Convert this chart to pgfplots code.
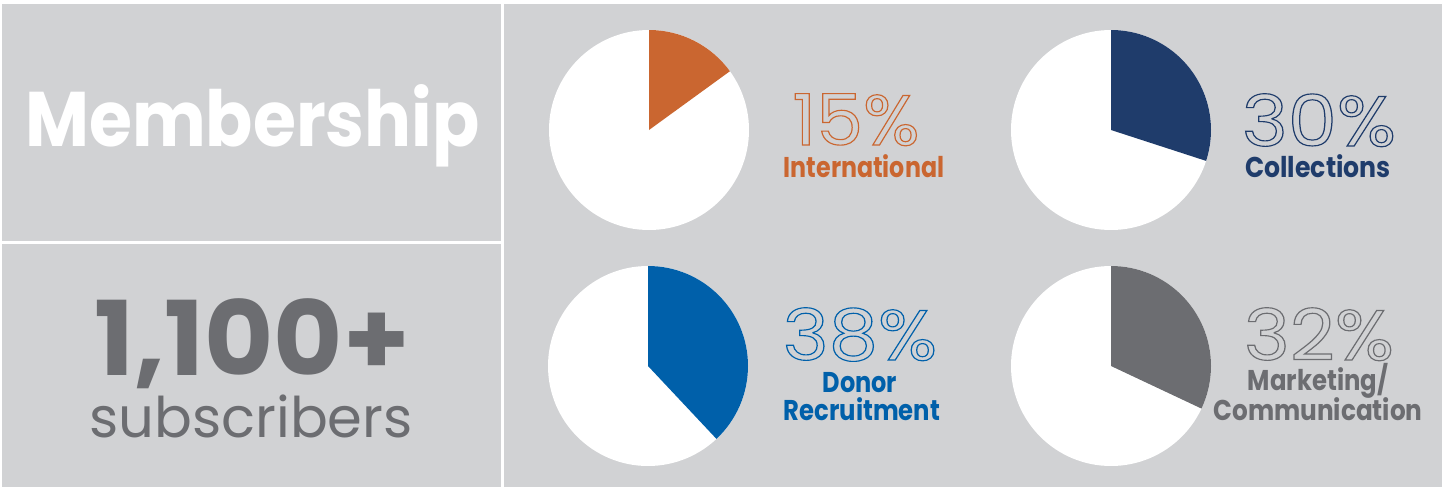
\documentclass[border=0pt]{standalone}
\usepackage{pgfplots}
\pgfplotsset{compat=1.18}
\usepackage{pgfplotstable}
\usepackage{fontspec}
\setmainfont{Poppins}
\newfontfamily\outfont[FakeBold=1.6]{Poppins}

\definecolor{panel}{HTML}{D1D2D4}
\definecolor{intl}{HTML}{CA6630}
\definecolor{coll}{HTML}{1F3C6B}
\definecolor{donor}{HTML}{0060AA}
\definecolor{mkt}{HTML}{6C6D71}

% share of members per interest area, in %
\pgfplotstableread{
area share
International 15
Collections 30
Donor 38
Marketing 32
}\shares

% outlined text: fill = panel grey, stroke = given rgb
\newcommand{\outlined}[2]{\special{pdf:bcolor [0.82 0.824 0.831] [#1]}#2\special{pdf:ecolor}}

% one pie: centre coordinate, table row, colour
\newcommand{\pie}[3]{%
  \pgfplotstablegetelem{#2}{share}\of\shares
  \let\val\pgfplotsretval
  \begin{axis}[at={(#1)}, anchor=center, width=100pt, height=100pt,
      scale only axis, hide axis, clip=false,
      xmin=-1, xmax=1, ymin=-1, ymax=1]
    \fill[white] (axis cs:0,0) circle[radius=1];
    \fill[#3] (axis cs:0,0) -- (axis cs:0,1)
      arc[start angle=90, end angle={90-3.6*\val}, radius=1] -- cycle;
  \end{axis}}

\tikzset{lbl/.style={anchor=base, inner sep=0, font=\bfseries\fontsize{14.3}{14.3}\selectfont},
  pct/.style={anchor=base, inner sep=0, font=\outfont\fontsize{35.5}{35.5}\selectfont}}

\begin{document}
\begin{tikzpicture}
\begin{scope}[x=0.5pt, y=-0.5pt]
  \fill[white] (0,0) rectangle (1442,487);
  \fill[panel] (2,4) rectangle (500.5,240.5);
  \fill[panel] (2,244) rectangle (500.5,487);
  \fill[panel] (504,4) rectangle (1442,487);
  \coordinate (p1) at (649,130);
  \coordinate (p2) at (1111,130);
  \coordinate (p3) at (648,366);
  \coordinate (p4) at (1111,366);

  \node[anchor=base, inner sep=0, text=white,
    font=\bfseries\fontsize{38.7}{38.7}\selectfont] at (252.5,146) {\scalebox{0.9}[1]{Membership}};
  \node[anchor=base, inner sep=0, text=mkt,
    font=\bfseries\fontsize{51.6}{51.6}\selectfont] at (252,375) {\scalebox{1.03}[1]{1,100+}};
  \node[anchor=base, inner sep=0, text=mkt,
    font=\fontsize{28}{28}\selectfont] at (251,437) {subscribers};

  \node[pct] at (856,145) {\scalebox{1.05}[1]{\outlined{0.792 0.4 0.188}{15\%}}};
  \node[lbl, text=intl] at (864,177) {\scalebox{0.83}[1]{International}};
  \node[pct] at (1319,146) {\scalebox{1.1}[1]{\outlined{0.122 0.235 0.42}{30\%}}};
  \node[lbl, text=coll] at (1318,177) {\scalebox{0.88}[1]{Collections}};
  \node[pct] at (860,360) {\scalebox{1.1}[1]{\outlined{0 0.376 0.667}{38\%}}};
  \node[lbl, text=donor] at (860,392) {\scalebox{0.84}[1]{Donor}};
  \node[lbl, text=donor] at (862,420) {\scalebox{0.85}[1]{Recruitment}};
  \node[pct] at (1319,360) {\scalebox{1.1}[1]{\outlined{0.424 0.427 0.443}{32\%}}};
  \node[lbl, text=mkt] at (1318,390) {\scalebox{0.85}[1]{Marketing/}};
  \node[lbl, text=mkt] at (1318,420) {\scalebox{0.865}[1]{Communication}};
\end{scope}
\pie{p1}{0}{intl}
\pie{p2}{1}{coll}
\pie{p3}{2}{donor}
\pie{p4}{3}{mkt}
\end{tikzpicture}
\end{document}
